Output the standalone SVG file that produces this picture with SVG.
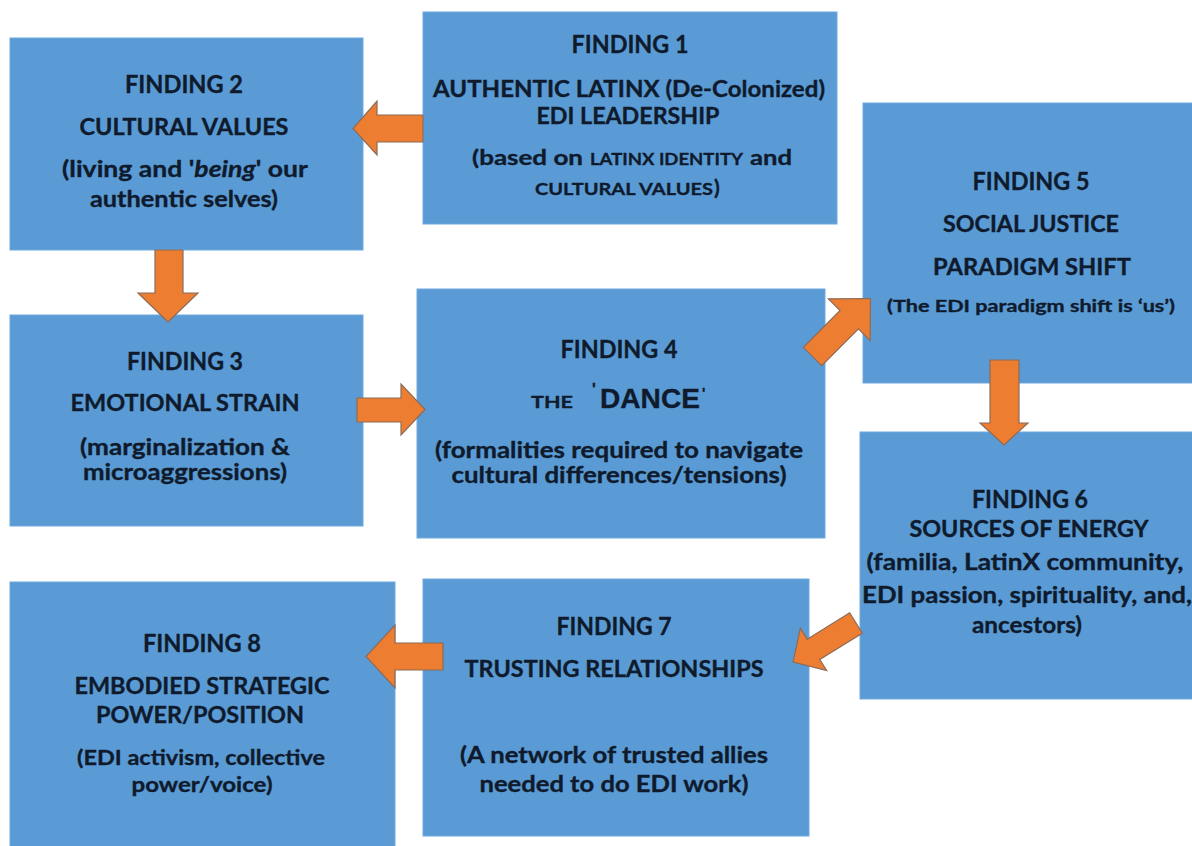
<svg xmlns="http://www.w3.org/2000/svg" width="1192" height="846" viewBox="0 0 1192 846">
<style>
.box{fill:#5B9BD5;stroke:#6FA9DD;stroke-width:1}
.arr{fill:#ED7D31;stroke:#8C6B58;stroke-width:1.2;stroke-linejoin:miter}
text{font-family:Lato,"Open Sans","Liberation Sans",sans-serif;font-weight:bold;fill:#0F1B2D;stroke:#0F1B2D;stroke-width:0.35;text-anchor:middle}
.h{font-size:24px}
.t{font-size:22px}
.s{font-size:21px}
.sc{font-size:17px}
.st{text-anchor:start}
.ar{font-family:"Liberation Sans",Arial,sans-serif}
</style>
<rect width="1192" height="846" fill="#FFFFFF"/>
<g id="finding1">
<rect class="box" x="423" y="12" width="414" height="212"/>
<text class="h" x="630" y="53" textLength="117" lengthAdjust="spacingAndGlyphs">FINDING 1</text>
<text class="t" x="629" y="97" textLength="392" lengthAdjust="spacingAndGlyphs">AUTHENTIC LATINX (De-Colonized)</text>
<text class="t" x="628" y="124" textLength="183" lengthAdjust="spacingAndGlyphs">EDI LEADERSHIP</text>
<text class="s st" y="165"><tspan x="472" textLength="111" lengthAdjust="spacingAndGlyphs">(based on</tspan><tspan class="sc" x="590" textLength="153" lengthAdjust="spacingAndGlyphs">LATINX IDENTITY</tspan><tspan x="750" textLength="42" lengthAdjust="spacingAndGlyphs">and</tspan></text>
<text class="s st" y="195"><tspan class="sc" x="535" textLength="178" lengthAdjust="spacingAndGlyphs">CULTURAL VALUES</tspan><tspan x="714">)</tspan></text>
</g>
<g id="finding2">
<rect class="box" x="10" y="38" width="353" height="212"/>
<text class="h" x="184" y="93" textLength="118" lengthAdjust="spacingAndGlyphs">FINDING 2</text>
<text class="t" x="184" y="135" textLength="209" lengthAdjust="spacingAndGlyphs">CULTURAL VALUES</text>
<text class="t" x="185" y="177" textLength="246" lengthAdjust="spacingAndGlyphs">(living and '<tspan font-style="italic">being</tspan>' our</text>
<text class="t" x="184" y="207" textLength="188" lengthAdjust="spacingAndGlyphs">authentic selves)</text>
</g>
<g id="finding3">
<rect class="box" x="10" y="315" width="353" height="211"/>
<text class="h" x="185" y="370" textLength="116" lengthAdjust="spacingAndGlyphs">FINDING 3</text>
<text class="t" x="185" y="411" textLength="229" lengthAdjust="spacingAndGlyphs">EMOTIONAL STRAIN</text>
<text class="t" x="185" y="455" textLength="210" lengthAdjust="spacingAndGlyphs">(marginalization &amp;</text>
<text class="t" x="185" y="480" textLength="204" lengthAdjust="spacingAndGlyphs">microaggressions)</text>
</g>
<g id="finding4">
<rect class="box" x="417" y="289" width="408" height="249"/>
<text class="h" x="619" y="358" textLength="117" lengthAdjust="spacingAndGlyphs">FINDING 4</text>
<text class="sc st" x="531" y="408" textLength="42" lengthAdjust="spacingAndGlyphs">THE</text>
<text class="ar st" x="592" y="395" font-size="16">'</text>
<text class="ar st" x="600" y="408" font-size="27" textLength="100" lengthAdjust="spacingAndGlyphs">DANCE</text>
<text class="ar st" x="702" y="398" font-size="14">'</text>
<text class="t" x="619" y="458" textLength="368" lengthAdjust="spacingAndGlyphs">(formalities required to navigate</text>
<text class="t" x="619" y="483" textLength="335" lengthAdjust="spacingAndGlyphs">cultural differences/tensions)</text>
</g>
<g id="finding5">
<rect class="box" x="863" y="103" width="335" height="280"/>
<text class="h" x="1031" y="190" textLength="117" lengthAdjust="spacingAndGlyphs">FINDING 5</text>
<text class="t" x="1031" y="232" textLength="176" lengthAdjust="spacingAndGlyphs">SOCIAL JUSTICE</text>
<text class="t" x="1032" y="275" textLength="198" lengthAdjust="spacingAndGlyphs">PARADIGM SHIFT</text>
<text class="sc" x="1031" y="312" textLength="288" lengthAdjust="spacingAndGlyphs">(The EDI paradigm shift is ‘us’)</text>
</g>
<g id="finding6">
<rect class="box" x="860" y="432" width="338" height="267"/>
<text class="h" x="1030" y="508" textLength="116" lengthAdjust="spacingAndGlyphs">FINDING 6</text>
<text class="t" x="1029" y="537" textLength="239" lengthAdjust="spacingAndGlyphs">SOURCES OF ENERGY</text>
<text class="t" x="1025" y="570" textLength="317" lengthAdjust="spacingAndGlyphs">(familia, LatinX community,</text>
<text class="t" x="1027" y="603" textLength="330" lengthAdjust="spacingAndGlyphs">EDI passion, spirituality, and,</text>
<text class="t" x="1027" y="633" textLength="110" lengthAdjust="spacingAndGlyphs">ancestors)</text>
</g>
<g id="finding7">
<rect class="box" x="423" y="579" width="386" height="257"/>
<text class="h" x="614" y="635" textLength="115" lengthAdjust="spacingAndGlyphs">FINDING 7</text>
<text class="t" x="614" y="677" textLength="299" lengthAdjust="spacingAndGlyphs">TRUSTING RELATIONSHIPS</text>
<text class="t" x="614" y="763" textLength="308" lengthAdjust="spacingAndGlyphs">(A network of trusted allies</text>
<text class="t" x="614" y="792" textLength="269" lengthAdjust="spacingAndGlyphs">needed to do EDI work)</text>
</g>
<g id="finding8">
<rect class="box" x="10" y="582" width="385" height="270"/>
<text class="h" x="202" y="652" textLength="118" lengthAdjust="spacingAndGlyphs">FINDING 8</text>
<text class="t" x="202" y="694" textLength="255" lengthAdjust="spacingAndGlyphs">EMBODIED STRATEGIC</text>
<text class="t" x="200" y="723" textLength="208" lengthAdjust="spacingAndGlyphs">POWER/POSITION</text>
<text class="s" x="201" y="765" textLength="248" lengthAdjust="spacingAndGlyphs">(EDI activism, collective</text>
<text class="s" x="202" y="792" textLength="141" lengthAdjust="spacingAndGlyphs">power/voice)</text>
</g>
<g id="connectors">
<polygon class="arr" points="423,115 377,115 377,101 353,128.5 377,155 377,142 423,142"/>
<polygon class="arr" points="155,250 183,250 183,293 198,293 168,322 138,293 155,293"/>
<polygon class="arr" points="357,398 401,398 401,384 425,409.5 401,435 401,422 357,422"/>
<polygon class="arr" transform="translate(812.5,356.5) rotate(-45)" points="0,-13 52,-13 52,-29.5 82,0 52,29.5 52,13 0,13"/>
<polygon class="arr" points="990,360 1019,360 1019,423 1028,423 1004,445 980,423 990,423"/>
<polygon class="arr" transform="translate(856,623) rotate(148.2)" points="0,-12 50,-12 50,-25 74,0 50,25 50,12 0,12"/>
<polygon class="arr" points="443,643 395,643 395,625 366,656.5 395,688 395,670 443,670"/>
</g>
</svg>
